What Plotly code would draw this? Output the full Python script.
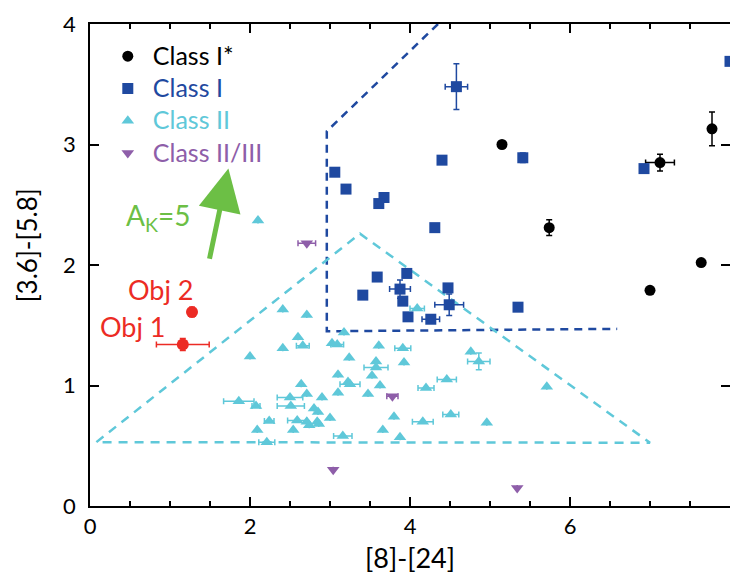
import plotly.graph_objects as go

FONT = "Lato"
BLACK = "#000000"
BLUE = "#1f49a0"
CYAN = "#5fc8d9"
PURPLE = "#8e5ea9"
RED = "#ec2b24"
GREEN = "#6cbf45"

# ---- Class I* (black circles)
c1s_x = [5.15, 5.74, 7.125, 7.775, 7.64, 7.00]
c1s_y = [3.00, 2.31, 2.85, 3.13, 2.02, 1.79]
c1s_ex = [None, None, 0.18, None, None, None]
c1s_ey = [None, 0.065, 0.07, 0.14, None, None]

# ---- Class I (blue squares)
c1_x = [3.06, 3.20, 3.675, 3.61, 4.40, 4.31, 3.59, 3.96, 3.41, 3.875,
        3.91, 4.475, 4.49, 3.975, 4.26, 5.35, 5.41, 6.925, 8.00, 4.58]
c1_y = [2.77, 2.63, 2.56, 2.51, 2.87, 2.31, 1.90, 1.93, 1.75, 1.80,
        1.70, 1.81, 1.67, 1.57, 1.55, 1.65, 2.89, 2.80, 3.69, 3.48]
c1_ex = [None, None, None, None, None, None, None, None, None, 0.13,
         None, None, 0.18, None, 0.11, None, None, None, None, 0.14]
c1_ey = [None, None, None, None, None, None, None, None, None, 0.075,
         None, None, 0.09, None, None, None, 0.04, None, None, 0.19]

# ---- Class II (cyan triangles)
c2_x = [2.10, 2.41, 2.71, 2.60, 2.41, 2.66, 2.00, 2.64, 1.86, 2.075,
        2.50, 2.51, 2.24, 2.59, 2.71, 2.09, 2.54, 2.21,
        3.025, 3.09, 3.175, 3.61, 3.91, 3.24, 3.925, 3.575, 3.575, 3.525,
        3.10, 3.225, 3.25, 3.625, 2.71, 3.10, 3.475, 2.90, 2.80, 2.85,
        2.84, 3.00, 2.74, 2.86, 3.80, 4.16, 3.66, 3.16, 3.875,
        4.09, 4.76, 4.86, 4.46, 4.20, 5.71, 4.51, 4.96]
c2_y = [2.37, 1.63, 1.585, 1.40, 1.31, 1.33, 1.24, 1.01, 0.87, 0.83,
        0.90, 0.83, 0.705, 0.71, 0.70, 0.63, 0.63, 0.53,
        1.35, 1.34, 1.44, 1.33, 1.31, 1.23, 1.19, 1.20, 1.15, 1.08,
        1.09, 1.03, 1.01, 1.00, 0.93, 0.94, 0.93, 0.90, 0.81, 0.78,
        0.70, 0.73, 0.67, 0.68, 0.74, 0.70, 0.63, 0.58, 0.57,
        1.64, 1.28, 1.20, 1.05, 0.98, 0.99, 0.76, 0.69]
c2_ex = [None, None, None, None, None, 0.08, None, None, 0.19, 0.05,
         0.16, 0.17, 0.06, 0.12, None, None, None, 0.10,
         None, 0.08, None, None, 0.10, None, None, None, 0.15, None,
         None, None, 0.125, None, None, None, None, None, None, None,
         None, None, None, None, None, 0.13, None, 0.115, None,
         0.09, None, 0.14, 0.12, 0.10, None, 0.10, None]
c2_ey = [None] * 49 + [0.07] + [None] * 5

# ---- Class II/III (purple inverted triangles)
c23_x = [2.71, 3.78, 3.04, 5.34]
c23_y = [2.18, 0.91, 0.30, 0.15]
c23_ex = [0.11, 0.07, None, None]

# ---- Objects 1 and 2
obj_x = [1.16, 1.275]
obj_y = [1.34, 1.61]
obj_ex = [0.33, None]
obj_ey = [0.05, 0.04]
obj_labels = ["Obj 1", "Obj 2"]
obj_label_x = [0.54, 0.89]
obj_label_y = [1.49, 1.80]

# ---- Classification boundaries
box1_x = [4.35, 2.96, 2.96, 6.59]
box1_y = [4.00, 3.11, 1.45, 1.47]
tri2_x = [0.08, 3.375, 7.00, 0.08]
tri2_y = [0.53, 2.26, 0.525, 0.53]

# ---- Extinction vector
ak_tail = (1.49, 2.04)
ak_head = (1.73, 2.80)
ak_label_pos = (0.85, 2.40)

x_ticks = [0, 2, 4, 6, 8]
y_ticks = [0, 1, 2, 3, 4]


def err(arr, color):
    return dict(type="data", array=arr, visible=True, color=color,
                thickness=1.5, width=3)


def legend_name(text, color):
    return f"<span style='color:{color};font-size:25px'>{text}</span>"


fig = go.Figure()

fig.add_trace(go.Scatter(x=box1_x, y=box1_y, mode="lines", showlegend=False,
                         line=dict(color=BLUE, width=2.5, dash="8px,6px")))
fig.add_trace(go.Scatter(x=tri2_x, y=tri2_y, mode="lines", showlegend=False,
                         line=dict(color=CYAN, width=2.5, dash="9px,7px")))

fig.add_trace(go.Scatter(
    x=c1s_x, y=c1s_y, mode="markers", name=legend_name("Class I*", BLACK),
    marker=dict(symbol="circle", size=11, color=BLACK),
    error_x=err(c1s_ex, BLACK), error_y=err(c1s_ey, BLACK)))
fig.add_trace(go.Scatter(
    x=c1_x, y=c1_y, mode="markers", name=legend_name("Class I", BLUE),
    marker=dict(symbol="square", size=11, color=BLUE),
    error_x=err(c1_ex, BLUE), error_y=err(c1_ey, BLUE)))
fig.add_trace(go.Scatter(
    x=c2_x, y=c2_y, mode="markers", name=legend_name("Class II", CYAN),
    marker=dict(symbol="triangle-up", size=11, color=CYAN),
    error_x=err(c2_ex, CYAN), error_y=err(c2_ey, CYAN)))
fig.add_trace(go.Scatter(
    x=c23_x, y=c23_y, mode="markers", name=legend_name("Class II/III", PURPLE),
    marker=dict(symbol="triangle-down", size=11, color=PURPLE),
    error_x=err(c23_ex, PURPLE)))
fig.add_trace(go.Scatter(
    x=obj_x, y=obj_y, mode="markers", showlegend=False,
    marker=dict(symbol="circle", size=12, color=RED),
    error_x=err(obj_ex, RED), error_y=err(obj_ey, RED)))

# right-hand axis: ticks only, no axis line (as in the reference)
fig.add_trace(go.Scatter(x=[None], y=[None], yaxis="y2", showlegend=False,
                         hoverinfo="skip"))

for t, lx, ly in zip(obj_labels, obj_label_x, obj_label_y):
    fig.add_annotation(x=lx, y=ly, xref="x", yref="y", text=t, showarrow=False,
                       font=dict(family=FONT, size=27, color=RED))

fig.add_annotation(x=ak_head[0], y=ak_head[1], ax=ak_tail[0], ay=ak_tail[1],
                   xref="x", yref="y", axref="x", ayref="y", text="",
                   showarrow=True, arrowhead=2, arrowsize=1.7, arrowwidth=5,
                   arrowcolor=GREEN)
fig.add_annotation(x=ak_label_pos[0], y=ak_label_pos[1], xref="x", yref="y",
                   text="A<sub>K</sub>=5", showarrow=False,
                   font=dict(family=FONT, size=28, color=GREEN))

fig.add_annotation(x=-0.099, y=0.54, xref="paper", yref="paper",
                   xanchor="center", yanchor="middle",
                   text="[3.6]-[5.8]", textangle=-90, showarrow=False,
                   font=dict(family=FONT, size=26, color=BLACK))

tick_common = dict(ticks="inside", ticklen=9, tickwidth=1.5, tickcolor=BLACK,
                   showgrid=False, zeroline=False,
                   tickfont=dict(family=FONT, size=22, color=BLACK))

fig.update_layout(
    xaxis=dict(range=[0, 8], tickvals=x_ticks, showline=True, linecolor=BLACK,
               linewidth=1.5, mirror="ticks",
               minor=dict(dtick=0.5, ticks="inside", ticklen=5, tickwidth=1.5,
                          tickcolor=BLACK, showgrid=False),
               title=dict(text="[8]-[24]",
                          font=dict(family=FONT, size=27, color=BLACK),
                          standoff=14),
               **tick_common),
    yaxis=dict(range=[0, 4], tickvals=y_ticks, showline=True, linecolor=BLACK,
               linewidth=1.5, mirror=False, ticklabelstandoff=8, **tick_common),
    yaxis2=dict(range=[0, 4], tickvals=y_ticks, overlaying="y", side="right",
                matches="y", showline=False, showticklabels=False, **tick_common),
)

fig.update_layout(
    width=730, height=574,
    margin=dict(l=90, r=0, t=24, b=68),
    paper_bgcolor="white", plot_bgcolor="white",
    font=dict(family=FONT, color=BLACK),
    legend=dict(x=0.02, y=0.977, xanchor="left", yanchor="top",
                bgcolor="rgba(0,0,0,0)", font=dict(family=FONT, size=22.5),
                itemwidth=40, tracegroupgap=0),
)

fig.write_html("out.html")
